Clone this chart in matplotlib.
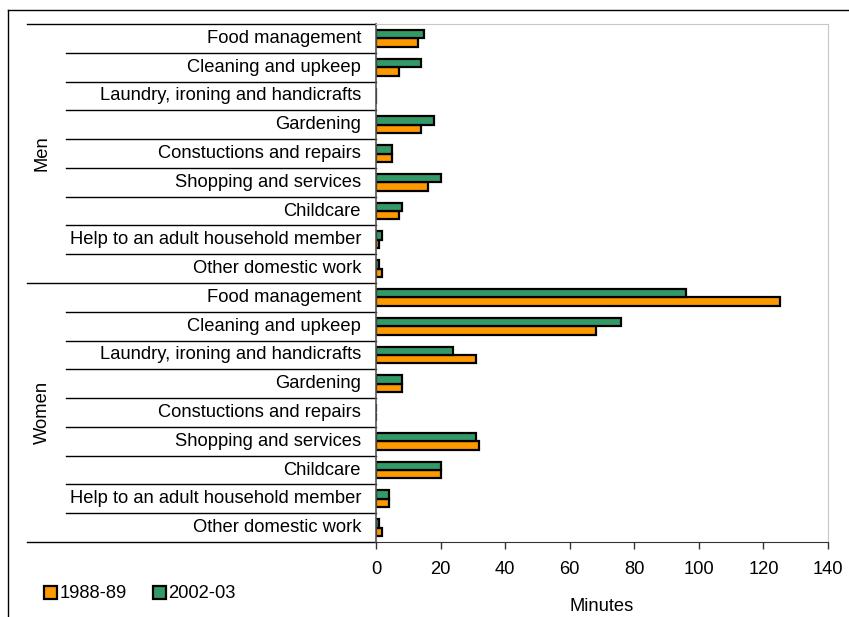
import numpy as np
import matplotlib
matplotlib.use('Agg')
import matplotlib.pyplot as plt
from matplotlib.patches import Patch
from matplotlib.lines import Line2D

plt.rcParams['font.family'] = ['Liberation Sans', 'DejaVu Sans']

# data
activities = ['Food management', 'Cleaning and upkeep', 'Laundry, ironing and handicrafts',
              'Gardening', 'Constuctions and repairs', 'Shopping and services', 'Childcare',
              'Help to an adult household member', 'Other domestic work']
groups = ['Men', 'Women']
men_1988 = [13, 7, 0, 14, 5, 16, 7, 1, 2]
men_2002 = [15, 14, 0, 18, 5, 20, 8, 2, 1]
women_1988 = [125, 68, 31, 8, 0, 32, 20, 4, 2]
women_2002 = [96, 76, 24, 8, 0, 31, 20, 4, 1]
series_labels = ['1988-89', '2002-03']
xticks = [0, 20, 40, 60, 80, 100, 120, 140]

orange = '#FF9900'
green = '#339966'
fs = 13.2

v1988 = men_1988 + women_1988
v2002 = men_2002 + women_2002
labels = activities + activities
n = len(labels)
y = np.arange(n)
h = 0.29

fig = plt.figure(figsize=(8.49, 6.17), dpi=100)
ax = fig.add_axes([376 / 849, 1 - 542 / 617, 452 / 849, 518 / 617])

ax.barh(y + h / 2, v1988, height=h, color=orange, edgecolor='black', linewidth=1.6)
ax.barh(y - h / 2, v2002, height=h, color=green, edgecolor='black', linewidth=1.6)

ax.set_ylim(n - 0.5, -0.5)
ax.set_xlim(0, 140)
ax.set_xticks(xticks)
ax.tick_params(axis='x', direction='out', length=5, width=1, pad=9, labelsize=fs,
               color='#333333')
ax.set_yticks([])
ax.set_xlabel('Minutes', fontsize=fs, labelpad=14)

for s in ['top', 'right']:
    ax.spines[s].set_color('#c8c8c8')
ax.spines['left'].set_color('#555555')
ax.spines['bottom'].set_color('#333333')
ax.spines['left'].set_linewidth(1.2)

# category labels and separators in the label area
trans = ax.get_yaxis_transform()
for i, lab in enumerate(labels):
    ax.text(-0.033, i, lab, transform=trans, ha='right', va='center', fontsize=fs)
for b in range(1, n):
    if b % len(activities) == 0:
        continue
    ax.add_line(Line2D([-0.686, 0], [b - 0.5, b - 0.5], transform=trans, color='black',
                       linewidth=1, clip_on=False))
for b in [0, len(activities), n]:
    ax.add_line(Line2D([-0.772, 0], [b - 0.5, b - 0.5], transform=trans, color='black',
                       linewidth=1, clip_on=False))
for g, name in enumerate(groups):
    mid = g * len(activities) + (len(activities) - 1) / 2
    ax.text(-0.739, mid, name, transform=trans, rotation=90, ha='center', va='center',
            fontsize=fs)

# legend
handles = [Patch(facecolor=orange, edgecolor='black', linewidth=1.6),
           Patch(facecolor=green, edgecolor='black', linewidth=1.6)]
fig.legend(handles, series_labels, loc='center left', bbox_to_anchor=(0.037, 1 - 594 / 617),
           ncol=2, frameon=False, fontsize=fs, handlelength=0.7, handleheight=0.7,
           handletextpad=0.15, columnspacing=1.4, borderpad=0.2)

# outer frame (left and top)
fig.add_artist(Line2D([8 / 849, 8 / 849], [0, 1 - 10 / 617], transform=fig.transFigure,
                      color='black', linewidth=1))
fig.add_artist(Line2D([8 / 849, 1], [1 - 10 / 617, 1 - 10 / 617], transform=fig.transFigure,
                      color='black', linewidth=1))

fig.savefig('out.png', dpi=100)
